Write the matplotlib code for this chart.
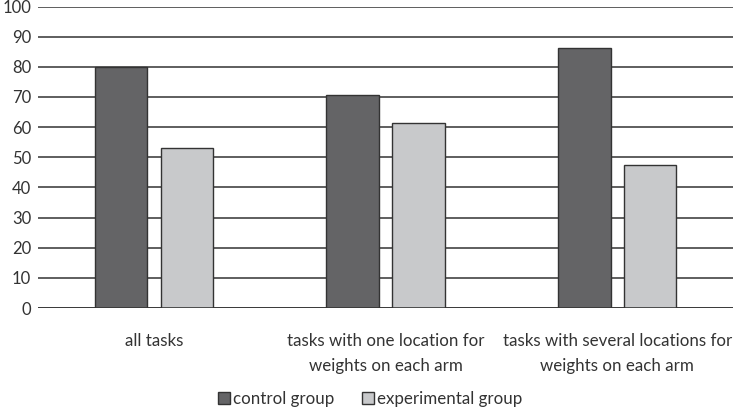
import matplotlib.pyplot as plt
import numpy as np

# data
categories = ['all tasks',
              'tasks with one location for\nweights on each arm',
              'tasks with several locations for\nweights on each arm']
control = [79.8, 70.6, 86.2]
experimental = [53.1, 61.3, 47.5]
series_names = ['control group', 'experimental group']

plt.rcParams['font.family'] = ['Lato', 'DejaVu Sans']

fig = plt.figure(figsize=(7.33, 4.07), dpi=100)
ax = fig.add_axes([0.052, 0.243, 0.948, 0.741])

x = np.arange(len(categories))
w = 0.227
off = 0.142
ax.bar(x - off, control, w, color='#646466', edgecolor='#333333', linewidth=1,
       label=series_names[0], zorder=3)
ax.bar(x + off, experimental, w, color='#c8c9cb', edgecolor='#333333', linewidth=1,
       label=series_names[1], zorder=3)

ax.set_xlim(-0.5, 2.5)
ax.set_ylim(0, 100)
ax.set_yticks(np.arange(0, 101, 10))
ax.yaxis.grid(True, color='#333333', linewidth=1.1)
ax.set_axisbelow(True)
for s in ax.spines.values():
    s.set_visible(False)
ax.axhline(0, color='#333333', linewidth=1.1, zorder=4)
ax.tick_params(length=0, labelsize=12, colors='#333333')
ax.tick_params(axis='y', pad=5)
ax.set_xticks(x)
ax.set_xticklabels(categories, fontsize=12.2, linespacing=1.65)
ax.tick_params(axis='x', pad=18)

fig.legend(loc='center', bbox_to_anchor=(0.505, 0.02), ncol=2, frameon=False,
           fontsize=12.2, handlelength=0.7, handleheight=0.7, columnspacing=1.6,
           handletextpad=0.2, labelcolor='#333333')

fig.savefig('out.png', dpi=100)
